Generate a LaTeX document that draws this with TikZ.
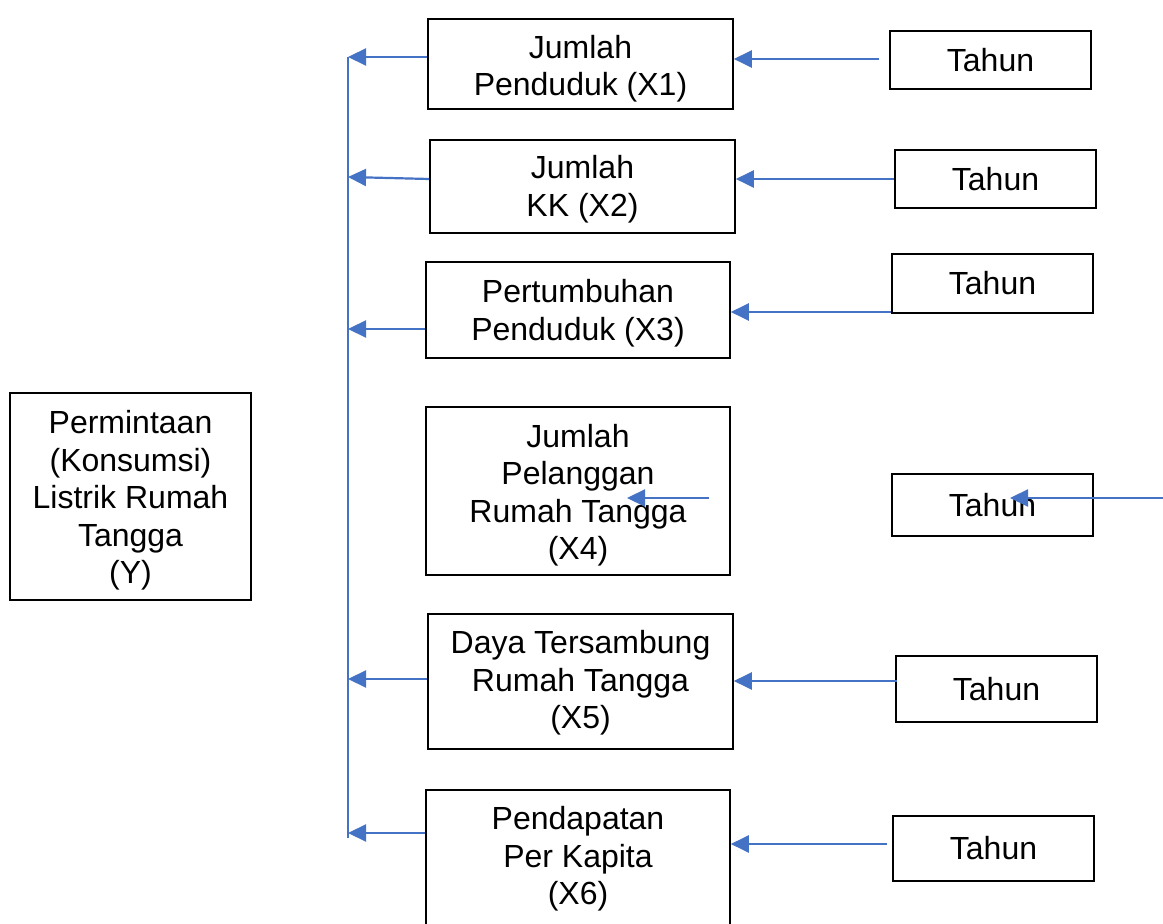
\documentclass[tikz,border=0pt]{standalone}
\usepackage{fontspec}
\setmainfont{Liberation Sans}
\usetikzlibrary{arrows.meta}
\definecolor{arrblue}{RGB}{68,114,196}
\newcommand\btext[2]{\vbox{\kern#1\hbox{\begin{tabular}{@{}c@{}}#2\end{tabular}}}}
\begin{document}
\begin{tikzpicture}[x=0.5pt,y=-0.5pt,
  box/.style={draw=black,line width=0.8pt,inner sep=0pt,
    font=\fontsize{16}{18.75}\selectfont},
  arr/.style={draw=arrblue,line width=1.1pt,-{Triangle[length=9pt,width=8.5pt]}},
  busline/.style={draw=arrblue,line width=1.1pt}]
\useasboundingbox (0,0) rectangle (1163,924);
\clip (0,0) rectangle (1163,924);
\fill[white] (0,0) rectangle (1163,924);
% left box
\node[box,minimum width=120.5pt,minimum height=103.5pt] (Y) at (130.5,496.5)
  {\btext{4.6pt}{Permintaan\\(Konsumsi)\\Listrik Rumah\\Tangga\\(Y)}};
% middle boxes
\node[box,minimum width=152.5pt,minimum height=45pt] (X1) at (580.5,64) {\btext{5.6pt}{Jumlah\\Penduduk (X1)}};
\node[box,minimum width=152.5pt,minimum height=46.5pt] (X2) at (582.5,186.5) {\btext{3.6pt}{Jumlah\\KK (X2)}};
\node[box,minimum width=152pt,minimum height=48pt] (X3) at (578,310) {\btext{4.1pt}{Pertumbuhan\\Penduduk (X3)}};
\node[box,minimum width=152pt,minimum height=84pt] (X4) at (578,491) {\btext{5.1pt}{Jumlah\\Pelanggan\\Rumah Tangga\\(X4)}};
\node[box,minimum width=152.5pt,minimum height=67.5pt] (X5) at (580.5,681.5) {\btext{2.1pt}{Daya Tersambung\\Rumah Tangga\\(X5)}};
\node[box,minimum width=152pt,minimum height=70pt] (X6) at (578,860) {\btext{-0.4pt}{Pendapatan\\Per Kapita\\(X6)}};
% right boxes
\node[box,minimum width=100.5pt,minimum height=29pt] (T1) at (990.5,60) {\raisebox{-0.5pt}{Tahun}};
\node[box,minimum width=100.5pt,minimum height=29pt] (T2) at (995.5,179) {\raisebox{-0.5pt}{Tahun}};
\node[box,minimum width=100.5pt,minimum height=29.5pt] (T3) at (992.5,283.5) {\raisebox{-0.5pt}{Tahun}};
\node[box,minimum width=100.5pt,minimum height=31pt] (T4) at (992.5,505) {Tahun};
\node[box,minimum width=100.5pt,minimum height=33pt] (T5) at (996.5,689) {\raisebox{0.5pt}{Tahun}};
\node[box,minimum width=100.5pt,minimum height=32.5pt] (T6) at (993.5,848.5) {\raisebox{0.5pt}{Tahun}};
% bus
\coordinate (busTop) at (348,57);
\coordinate (busBot) at (348,838);
\draw[busline] (busTop) -- (busBot);
% anchor points
\coordinate (x1w) at ([yshift=3.5pt]X1.west);
\coordinate (x2w) at ([yshift=3.75pt]X2.west);
\coordinate (x2b) at ([yshift=4.75pt]X2.west);
\coordinate (x3w) at ([yshift=-9.5pt]X3.west);
\coordinate (x5w) at ([yshift=1.25pt]X5.west);
\coordinate (x6w) at ([yshift=13.5pt]X6.west);
\coordinate (t1w) at ([xshift=-5pt,yshift=0.5pt]T1.west);
\coordinate (t2w) at (T2.west);
\coordinate (t3w) at ([yshift=-14.25pt]T3.west);
\coordinate (t5w) at ([xshift=1pt,yshift=4pt]T5.west);
\coordinate (t6w) at ([xshift=-2.5pt,yshift=2.25pt]T6.west);
% arrows to bus
\draw[arr] (x1w) -- (busTop |- x1w);
\draw[arr] (x2w) -- (busTop |- x2b);
\draw[arr] (x3w) -- (busTop |- x3w);
\draw[arr] (x5w) -- (busTop |- x5w);
\draw[arr] (x6w) -- (busTop |- x6w);
% arrows from Tahun
\draw[arr] (t1w) -- (X1.east |- t1w);
\draw[arr] (t2w) -- (X2.east |- t2w);
\draw[arr] (t3w) -- (X3.east |- t3w);
\draw[arr] (t5w) -- (X5.east |- t5w);
\draw[arr] (t6w) -- (X6.east |- t6w);
% stray arrows
\coordinate (a4s) at (709,498);
\coordinate (a4e) at (627,498);
\draw[arr] (a4s) -- (a4e);
\coordinate (t4s) at (1163,498);
\coordinate (t4e) at (1010,498);
\draw[arr] (t4s) -- (t4e);
\end{tikzpicture}
\end{document}
